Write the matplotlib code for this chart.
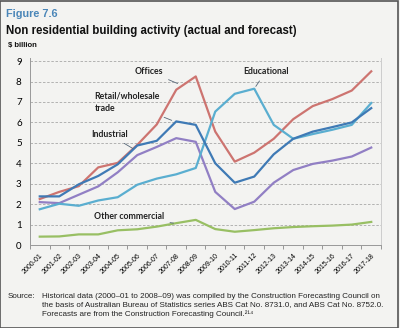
import matplotlib
matplotlib.use("Agg")
import matplotlib.pyplot as plt
from matplotlib.patches import Rectangle

plt.rcParams['font.family'] = ['Liberation Sans', 'DejaVu Sans']

years = ["2000-01", "2001-02", "2002-03", "2003-04", "2004-05", "2005-06",
         "2006-07", "2007-08", "2008-09", "2009-10", "2010-11", "2011-12",
         "2012-13", "2013-14", "2014-15", "2015-16", "2016-17", "2017-18"]

offices = [2.25, 2.6, 2.88, 3.8, 4.02, 4.9, 5.9, 7.6, 8.25, 5.55, 4.08, 4.52,
           5.2, 6.16, 6.8, 7.14, 7.56, 8.5]
retail = [2.38, 2.38, 2.97, 3.38, 3.95, 4.87, 5.1, 6.05, 5.88, 4.0, 3.05, 3.35,
          4.44, 5.2, 5.55, 5.77, 6.0, 6.7]
industrial = [2.1, 2.05, 2.46, 2.87, 3.56, 4.4, 4.8, 5.23, 5.05, 2.6, 1.76, 2.12,
              3.05, 3.67, 3.97, 4.13, 4.33, 4.77]
educational = [1.75, 2.02, 1.92, 2.18, 2.34, 2.95, 3.25, 3.46, 3.77, 6.53, 7.4,
               7.65, 5.88, 5.2, 5.43, 5.64, 5.88, 6.95]
other_commercial = [0.41, 0.42, 0.52, 0.52, 0.72, 0.77, 0.9, 1.07, 1.23, 0.78,
                    0.65, 0.73, 0.82, 0.88, 0.92, 0.95, 1.0, 1.13]

bg = '#f3f3f1'
fig = plt.figure(figsize=(4.0, 3.28), dpi=100, facecolor=bg)
fig.patches.append(Rectangle((0, 0), 0.995, 0.997, transform=fig.transFigure,
                             facecolor='none', edgecolor='#555555', lw=1.2))

ax = fig.add_axes([0.075, 0.253, 0.8775, 0.57])
ax.set_facecolor(bg)

x = range(len(years))
ax.plot(x, offices, color='#cd7470', lw=1.6)
ax.plot(x, other_commercial, color='#98bf63', lw=1.6)
ax.plot(x, industrial, color='#917fc4', lw=1.6)
ax.plot(x, educational, color='#5aaed0', lw=1.6)
ax.plot(x, retail, color='#3f7ab5', lw=1.6)

ax.set_xlim(-0.5, len(years) - 0.5)
ax.set_ylim(0, 9.15)
ax.set_yticks(range(0, 10))
ax.yaxis.grid(True, linestyle=(0, (3, 2)), color='#a8a8a8', lw=0.6)
ax.set_axisbelow(True)
ax.tick_params(axis='y', length=0, labelsize=7, pad=6)
for t in ax.get_yticklabels():
    t.set_family(['Lato', 'DejaVu Sans'])

ax.set_xticks(list(x))
ax.set_xticklabels(years, rotation=45, ha='right', rotation_mode='anchor',
                   fontsize=5)
ax.set_xticks([i - 0.5 for i in range(len(years) + 1)], minor=True)
ax.tick_params(axis='x', which='major', length=0, pad=5)
ax.tick_params(axis='x', which='minor', length=3, color='#888888', width=0.6)

ax.spines['top'].set_visible(False)
ax.spines['left'].set_color('#999999')
ax.spines['bottom'].set_color('#999999')
ax.spines['right'].set_color('#cccccc')
for s in ['left', 'bottom', 'right']:
    ax.spines[s].set_linewidth(0.7)

lab = dict(fontsize=6.3, fontweight='bold', color='#222222',
           family=['Lato', 'DejaVu Sans'])
arrow = dict(arrowstyle='-', color='#556677', lw=0.6)
ax.annotate('Offices', xy=(7.2, 7.85), xytext=(5.6, 8.5), ha='center', va='center',
            arrowprops=arrow, **lab)
ax.annotate('Retail/wholesale\ntrade', xy=(6.9, 6.05), xytext=(2.8, 6.98),
            ha='left', va='center', linespacing=1.6, arrowprops=arrow, **lab)
ax.annotate('Industrial', xy=(4.9, 4.65), xytext=(2.65, 5.4), ha='left', va='center',
            arrowprops=arrow, **lab)
ax.annotate('Educational', xy=(11.0, 7.65), xytext=(11.6, 8.5), ha='center', va='center',
            arrowprops=arrow, **lab)
ax.annotate('Other commercial', xy=(7.0, 1.05), xytext=(2.8, 1.4), ha='left', va='center',
            arrowprops=arrow, **lab)

fig.text(0.015, 0.958, 'Figure 7.6', fontsize=7.8, fontweight='bold', color='#4a86b8',
         va='center')
fig.text(0.015, 0.905, 'Non residential building activity (actual and forecast)',
         fontsize=8.3, fontweight='bold', color='#111111', va='center')
fig.text(0.02, 0.862, '$ billion', fontsize=5.5, fontweight='bold', color='#111111',
         va='center')

src = ("Historical data (2000\u201301 to 2008\u201309) was compiled by the Construction "
       "Forecasting Council on\nthe basis of Australian Bureau of Statistics series ABS "
       "Cat No. 8731.0, and ABS Cat No. 8752.0.\nForecasts are from the Construction "
       "Forecasting Council.\u00b2\u00b9\u2074")
fig.text(0.018, 0.106, 'Source:', fontsize=5.8, color='#222222', va='top')
fig.text(0.104, 0.106, src, fontsize=5.8, color='#222222', va='top', linespacing=1.25)

fig.savefig('out.png', dpi=100, facecolor=bg)
